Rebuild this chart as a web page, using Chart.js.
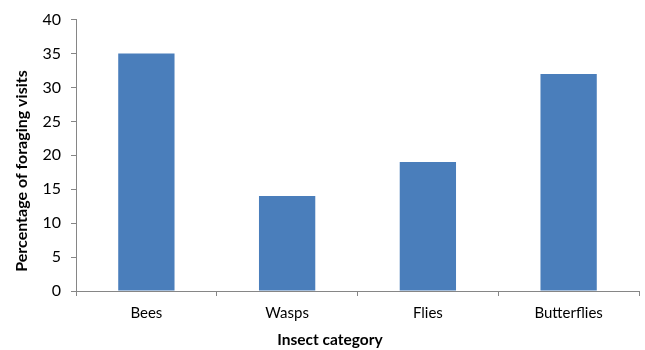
<!DOCTYPE html>
<html>
<head>
<meta charset="utf-8">
<script src="https://cdn.jsdelivr.net/npm/chart.js@4"></script>
<style>
  html, body { margin: 0; padding: 0; background: #fff; }
  #wrap { width: 645px; height: 350px; position: relative; }
</style>
</head>
<body>
<div id="wrap"><canvas id="graph"></canvas></div>
<script>
// data
const categories = ['Bees', 'Wasps', 'Flies', 'Butterflies']
const visits = [35, 14, 19, 32]
const yTicks = [0, 5, 10, 15, 20, 25, 30, 35, 40]
const xTitle = 'Insect category'
const yTitle = 'Percentage of foraging visits'

const axisGray = '#868686'
const fontName = 'Lato, "Liberation Sans", sans-serif'

// axis titles drawn by hand so they sit where the original puts them
const axisTitles = {
  id: 'axisTitles',
  afterDraw(chart) {
    const c = chart.ctx
    c.save()
    c.fillStyle = '#000'
    c.textAlign = 'center'
    c.textBaseline = 'middle'
    c.font = 'bold 15.5px ' + fontName
    c.fillText(xTitle, 330, 340)
    c.translate(22, 171)
    c.rotate(-Math.PI / 2)
    c.font = 'bold 16px ' + fontName
    c.fillText(yTitle, 0, 0)
    c.restore()
  }
}

const ctx = document.getElementById('graph').getContext('2d')
const chart = new Chart(ctx, {
  type: 'bar',
  data: {
    labels: categories,
    datasets: [{
      label: yTitle,
      backgroundColor: '#4a7ebb',
      data: visits,
      barPercentage: 0.4,
      categoryPercentage: 1.0
    }]
  },
  options: {
    responsive: true,
    maintainAspectRatio: false,
    animation: false,
    layout: { padding: { top: 8, right: 6, bottom: 0, left: 0 } },
    plugins: {
      legend: { display: false },
      tooltip: { enabled: false }
    },
    scales: {
      x: {
        grid: {
          offset: true,
          drawOnChartArea: false,
          drawTicks: true,
          tickLength: 5,
          color: axisGray
        },
        border: { color: axisGray, width: 1 },
        ticks: {
          color: '#000',
          font: { family: fontName, size: 15 },
          padding: 8,
          maxRotation: 0
        },
        afterFit: function (scale) { scale.height = 59 }
      },
      y: {
        min: 0,
        max: 40,
        afterBuildTicks: function (scale) {
          scale.ticks = yTicks.map(v => ({ value: v }))
        },
        grid: {
          drawOnChartArea: false,
          drawTicks: true,
          tickLength: 5,
          color: axisGray
        },
        border: { color: axisGray, width: 1 },
        ticks: {
          color: '#000',
          font: { family: fontName, size: 16 },
          padding: 10
        },
        afterFit: function (scale) { scale.width = 76 }
      }
    }
  },
  plugins: [axisTitles]
})
</script>
</body>
</html>
